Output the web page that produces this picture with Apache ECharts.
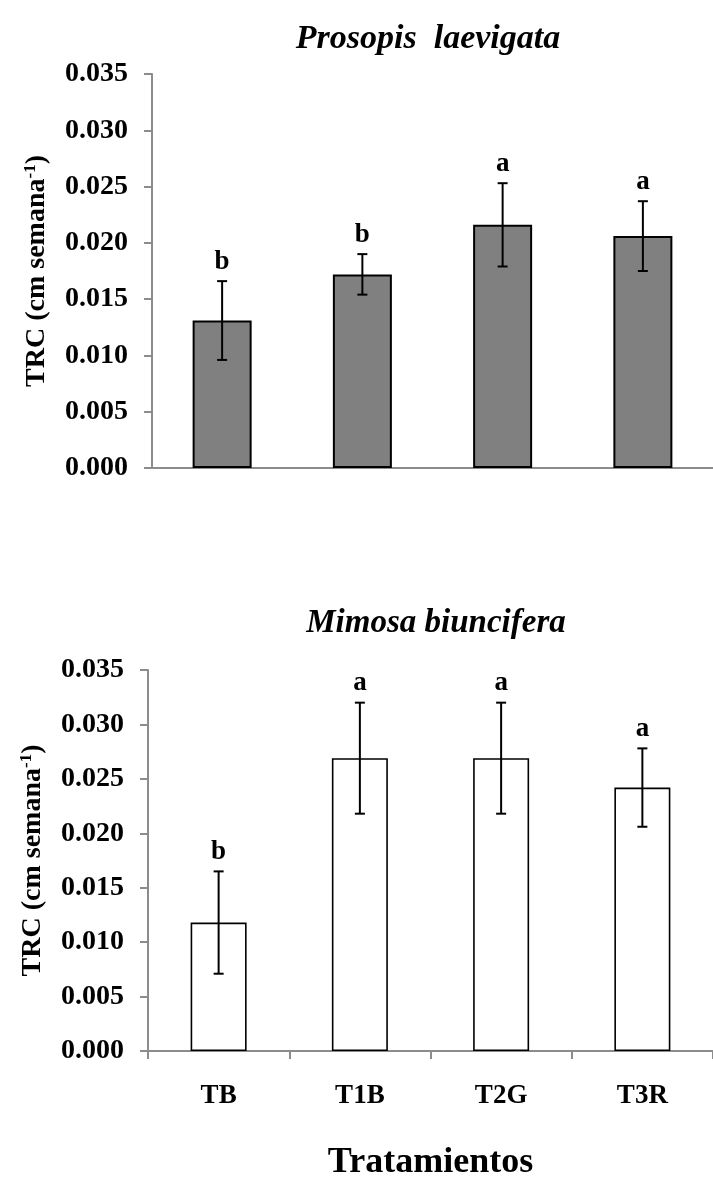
<!DOCTYPE html>
<html>
<head>
<meta charset="utf-8">
<style>
html,body{margin:0;padding:0;background:#fff;}
#chart{width:713px;height:1182px;}
</style>
<script src="https://cdn.jsdelivr.net/npm/echarts@6/dist/echarts.min.js"></script>
</head>
<body>
<div id="chart"></div>
<script>
const categories = ['TB', 'T1B', 'T2G', 'T3R'];
const prosopisMeans = [0.0131, 0.0172, 0.0216, 0.0206];
const prosopisErr = [0.0035, 0.0018, 0.0037, 0.0031];
const prosopisLetters = ['b', 'b', 'a', 'a'];
const mimosaMeans = [0.0118, 0.0269, 0.0269, 0.0242];
const mimosaErr = [0.0047, 0.0051, 0.0051, 0.0036];
const mimosaLetters = ['b', 'a', 'a', 'a'];
const yMin = 0, yMax = 0.035, yStep = 0.005;
const titleTop = 'Prosopis  laevigata';
const titleBottom = 'Mimosa biuncifera';
const xName = 'Tratamientos';

const FONT = "'Liberation Serif', 'Times New Roman', serif";
const AXIS_GRAY = '#8c8c8c';

function errData(means, errs, letters) {
  return means.map((m, i) => [i, m - errs[i], m + errs[i], letters[i]]);
}

function errRender(params, api) {
  const x = api.value(0);
  const lo = api.coord([x, api.value(1)]);
  const hi = api.coord([x, api.value(2)]);
  const letter = api.value(3);
  const cap = 5;
  const style = { stroke: '#000', lineWidth: 2 };
  return {
    type: 'group',
    children: [
      { type: 'line', shape: { x1: hi[0], y1: hi[1], x2: lo[0], y2: lo[1] }, style },
      { type: 'line', shape: { x1: hi[0] - cap, y1: hi[1], x2: hi[0] + cap, y2: hi[1] }, style },
      { type: 'line', shape: { x1: lo[0] - cap, y1: lo[1], x2: lo[0] + cap, y2: lo[1] }, style },
      { type: 'text', style: { x: hi[0], y: hi[1] - 6, text: String(letter), textAlign: 'center', textVerticalAlign: 'bottom', font: 'bold 27px ' + FONT, fill: '#000' } }
    ]
  };
}

function yAxisCfg(gridIndex) {
  return {
    type: 'value', gridIndex, min: yMin, max: yMax, interval: yStep,
    name: '{m|TRC (cm semana}{s|-1}{m|)}',
    nameLocation: 'middle', nameGap: 101, nameRotate: 90,
    nameTextStyle: {
      rich: {
        m: { fontFamily: FONT, fontWeight: 'bold', fontSize: 28, color: '#000' },
        s: { fontFamily: FONT, fontWeight: 'bold', fontSize: 17, color: '#000', verticalAlign: 'top', padding: [0, 0, 12, 0] }
      }
    },
    axisLine: { show: true, lineStyle: { color: AXIS_GRAY, width: 2 } },
    axisTick: { show: true, inside: false, length: 8, lineStyle: { color: AXIS_GRAY, width: 2 } },
    splitLine: { show: false },
    axisLabel: { formatter: v => v.toFixed(3), fontFamily: FONT, fontWeight: 'bold', fontSize: 28, color: '#000', margin: 24 }
  };
}

const chart = echarts.init(document.getElementById('chart'), null, { renderer: 'canvas' });
chart.setOption({
  backgroundColor: '#fff',
  animation: false,
  title: [
    { text: titleTop, left: 423, top: 17, textAlign: 'center', textStyle: { fontFamily: FONT, fontStyle: 'italic', fontWeight: 'bold', fontSize: 34, color: '#000' } },
    { text: titleBottom, left: 431, top: 602, textAlign: 'center', textStyle: { fontFamily: FONT, fontStyle: 'italic', fontWeight: 'bold', fontSize: 33, color: '#000' } }
  ],
  grid: [
    { left: 152, top: 74, width: 575, height: 394 },
    { left: 148, top: 670, width: 572, height: 382 }
  ],
  xAxis: [
    {
      type: 'category', gridIndex: 0, data: categories,
      axisLine: { show: true, lineStyle: { color: AXIS_GRAY, width: 2 } },
      axisTick: { show: false }, axisLabel: { show: false }
    },
    {
      type: 'category', gridIndex: 1, data: categories,
      name: xName, nameLocation: 'middle', nameGap: 94,
      nameTextStyle: { fontFamily: FONT, fontWeight: 'bold', fontSize: 36, color: '#000' },
      axisLine: { show: true, lineStyle: { color: AXIS_GRAY, width: 2 } },
      axisTick: { show: true, length: 8, lineStyle: { color: AXIS_GRAY, width: 2 } },
      axisLabel: { fontFamily: FONT, fontWeight: 'bold', fontSize: 27, color: '#000', margin: 32 }
    }
  ],
  yAxis: [yAxisCfg(0), yAxisCfg(1)],
  series: [
    {
      type: 'bar', xAxisIndex: 0, yAxisIndex: 0, data: prosopisMeans, barWidth: 59,
      itemStyle: { color: '#808080', borderColor: '#000', borderWidth: 2 }
    },
    {
      type: 'custom', xAxisIndex: 0, yAxisIndex: 0, data: errData(prosopisMeans, prosopisErr, prosopisLetters),
      renderItem: errRender, clip: false, z: 5
    },
    {
      type: 'bar', xAxisIndex: 1, yAxisIndex: 1, data: mimosaMeans, barWidth: 56,
      itemStyle: { color: '#fff', borderColor: '#000', borderWidth: 1.6 }
    },
    {
      type: 'custom', xAxisIndex: 1, yAxisIndex: 1, data: errData(mimosaMeans, mimosaErr, mimosaLetters),
      renderItem: errRender, clip: false, z: 5
    }
  ]
});
</script>
</body>
</html>
